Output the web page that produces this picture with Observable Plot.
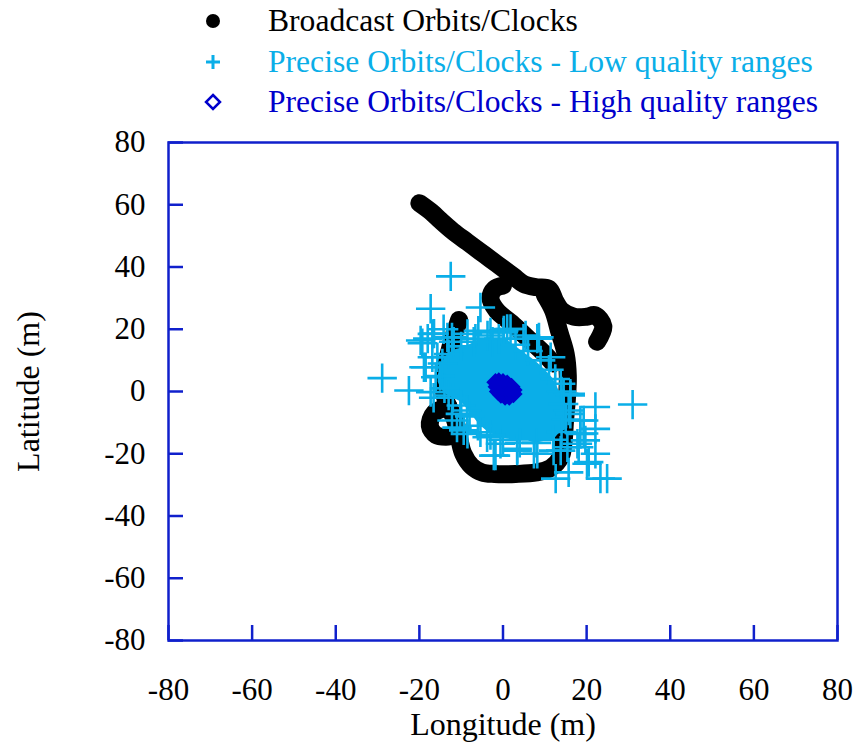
<!DOCTYPE html>
<html><head><meta charset="utf-8">
<script src="https://cdn.jsdelivr.net/npm/d3@7"></script>
<script src="https://cdn.jsdelivr.net/npm/@observablehq/plot@0.6"></script>
<style>
body{margin:0;background:#fff;}
#legend{display:block;}
</style></head><body>
<div id="legend"></div>
<div id="chart"></div>
<script>
// ---------- data ----------
const seriesNames = ["Broadcast Orbits/Clocks", "Precise Orbits/Clocks - Low quality ranges", "Precise Orbits/Clocks - High quality ranges"];
const axisTicks = [-80, -60, -40, -20, 0, 20, 40, 60, 80];
const xLabel = "Longitude (m)";
const yLabel = "Latitude (m)";

// Broadcast track pieces (lon, lat) in metres
const broadcastMain = [[-20,60.5],[-17,57.5],[-15,55],[-12,51.5],[-8.5,48],[-5.5,45],[-3,42.5],[0,39.5],[2.5,37],[5,34.5],[8,33.5],[11,33],[12.5,29],[14,26],[17,24],[20,24],[22,24.5],[24,21],[22.5,16]];
const broadcastLoopInner = [[0,34],[-2,33],[-3,30],[-1.5,26],[2,22],[6,17],[10,12],[12,9]];
const broadcastLoopOuter = [[10,31],[12,26],[13.5,19],[15,12],[15.5,5],[15.3,-2],[14.8,-10],[14.5,-16],[13.8,-21],[11.5,-24.5],[8,-26],[3,-26.5],[-2,-26.5],[-5,-26],[-7.5,-24],[-9.5,-20],[-10.5,-15],[-11.5,-9],[-13,-5],[-14,-1],[-14,5],[-13,12],[-12,17],[-11,21],[-10.5,23]];
const broadcastHook = [[-13,-5],[-16.5,-7],[-17.5,-11],[-16,-14],[-13,-14.5]];

// Dense core of the low-quality cloud (upper and lower edge per longitude)
const coreLon    = [-15.5, -14, -12, -10, -8, -6, -4, -2, 0, 2, 4, 6, 8, 10, 12, 13.5, 15.5];
const coreTop    = [5, 10.5, 13, 14, 15, 16.5, 17, 17, 17, 15.5, 13.5, 11.5, 9.5, 7, 4, 0, -5];
const coreBottom = [3, -0.5, -2, -3.5, -6.5, -10, -12.5, -14, -15, -15.5, -16, -16, -16.5, -16, -15.5, -13.5, -12];

// Individual low-quality points (lon, lat)
const lowLon = [-12.5,-17.3,-5.4,-28.9,-22.5,-18.5,-19.3,-16.9,-16.6,-16.9,-14.2,-12.2,-17.3,-16.1,-13,-12.2,-10.2,-9.4,-8.6,-5.4,-3.8,-0.6,-1.8,31,22.1,22.1,19.3,16.1,15.7,19.7,22.1,20.5,15.7,12.6,23.3,24.9,7.4,3.4,13.8,18.5,18.1,1.8,5.4,8.6,11.4,16.1,13.8,-18,-11.8,-8.5,-5.9,-3.7,-2.5,0.1,4.9,8.2,-6.6,-3,0.2,20.1,-2.2,1,14.5,16.1,18.5,19.3,17.8,15.4,12.1,8.2,3.4,-19.7,-16.5,-13.3,-18.9,-15.7,-11,-8.5,-13,-10,-7,-1,3,6,9,11,12.5,14,14.5,15,14,12,8,4,0,-3,-6,-8,-10,-12,-14,-15,-14.5];
const lowLat = [37,26.6,27,4.3,0.3,7.8,15.5,11,-2,18.5,20,17.4,-0.2,4.6,-1.3,-9.3,-7.2,-12.5,-6.1,-13.1,-14.7,-16.8,-20.6,-4.2,-5,-12,-9.3,-1.3,-6.1,-15.7,-20,-22.7,-26,-28,-28,-28,-20,-18.4,-19,-13.6,-17.9,20.1,18,17.4,11,-0.7,2.5,17,16,18.5,19.5,18,16,19,17,17,17,19,19.6,-23.2,-20.6,20.1,-0.7,-7.2,-9.3,-13.5,-16.8,-17.9,-19,-20,-19,16.4,18.6,17.4,7.8,11,-11.6,-13.6,12,14.5,16,17,15,13,10,7,4,0,-4,-9,-13,-15.5,-16.5,-16.5,-15.5,-14,-11,-8,-4.5,-2,1,5,9];

// High-quality points (lon, lat)
const highLon = [-1.8,-1,0,1,2,2.5,2.5,1.5,0.5,-0.5,-1.2,-1.5,0,1,0.5,1.5];
const highLat = [3,3.2,3,2.5,1.5,0.5,-0.8,-1.6,-1.6,-1,0,1.5,1,0.5,2,0];

// ---------- styling ----------
const C_BLACK = "#000000";
const C_CYAN = "#0aaee8";
const C_DARK = "#0000cc";
const C_FRAME = "#1020cc";
const FONT = '"Liberation Serif", "Times New Roman", serif';

// ---------- tables ----------
const broadcastRows = [];
[broadcastMain, broadcastLoopInner, broadcastLoopOuter, broadcastHook].forEach((seg, i) =>
  seg.forEach(([lon, lat]) => broadcastRows.push({lon, lat, seg: i})));
const coreRows = coreLon.map((lon, i) => ({lon, top: coreTop[i], bottom: coreBottom[i]}));
const lowRows = lowLon.map((lon, i) => ({lon, lat: lowLat[i]}));
const highRows = highLon.map((lon, i) => ({lon, lat: highLat[i]}));

// ---------- legend ----------
const leg = d3.select("#legend").append("svg").attr("width", 859).attr("height", 122)
  .style("display", "block").style("font-family", FONT);
const legColors = [C_BLACK, C_CYAN, C_DARK];
const legY = [21, 62, 102];
seriesNames.forEach((name, i) => {
  const g = leg.append("g").attr("transform", `translate(213,${legY[i]})`);
  if (i === 0) g.append("circle").attr("r", 7).attr("fill", C_BLACK);
  if (i === 1) g.append("path").attr("d", "M-7,0H7M0,-7V7").attr("stroke", C_CYAN).attr("stroke-width", 3).attr("fill", "none");
  if (i === 2) g.append("path").attr("d", "M0,-7L7,0L0,7L-7,0Z").attr("stroke", C_DARK).attr("stroke-width", 2.5).attr("fill", "none");
  leg.append("text").attr("x", 268).attr("y", legY[i]).attr("dy", "0.33em")
    .attr("font-size", 31.6).attr("fill", legColors[i]).text(name);
});

// ---------- chart ----------
const plotH = 621, mTop = 20, mBottom = 103, mLeft = 168, mRight = 22;
const frameW = 859 - mLeft - mRight, frameH = plotH - mTop - mBottom;
const chart = Plot.plot({
  width: 859, height: plotH,
  marginTop: mTop, marginBottom: mBottom, marginLeft: mLeft, marginRight: mRight,
  x: {domain: [-80, 80], label: null},
  y: {domain: [-80, 80], label: null},
  style: {fontFamily: FONT, fontSize: "31px", color: "black", background: "white"},
  marks: [
    Plot.line(broadcastRows, {x: "lon", y: "lat", z: "seg", stroke: C_BLACK, strokeWidth: 18, strokeLinecap: "round", strokeLinejoin: "round", curve: "catmull-rom"}),
    Plot.areaY(coreRows, {x: "lon", y1: "bottom", y2: "top", fill: C_CYAN, curve: "catmull-rom"}),
    Plot.dot(lowRows, {x: "lon", y: "lat", symbol: "plus", r: 9.5, stroke: C_CYAN, strokeWidth: 2.6}),
    Plot.dot(highRows, {x: "lon", y: "lat", symbol: "diamond2", r: 7, stroke: C_DARK, fill: C_DARK, strokeWidth: 2}),
    Plot.frame({stroke: C_FRAME, strokeWidth: 2.5}),
    Plot.tickX(axisTicks, {x: d => d, stroke: C_FRAME, strokeWidth: 2.5, insetTop: frameH - 15}),
    Plot.tickY(axisTicks, {y: d => d, stroke: C_FRAME, strokeWidth: 2.5, insetRight: frameW - 15}),
    Plot.axisX(axisTicks, {tickSize: 0, tickPadding: 37, fontSize: 31, label: null, tickFormat: d => String(d)}),
    Plot.axisY(axisTicks, {tickSize: 0, tickPadding: 23, fontSize: 31, label: null, tickFormat: d => String(d)}),
    Plot.text([xLabel], {frameAnchor: "bottom", dy: 84, lineAnchor: "middle", textAnchor: "middle", fontSize: 32, fill: "black"}),
    Plot.text([yLabel], {frameAnchor: "left", dx: -140, rotate: -90, lineAnchor: "middle", textAnchor: "middle", fontSize: 32, fill: "black"})
  ]
});
chart.style.display = "block";
document.getElementById("chart").appendChild(chart);
</script>
</body></html>
